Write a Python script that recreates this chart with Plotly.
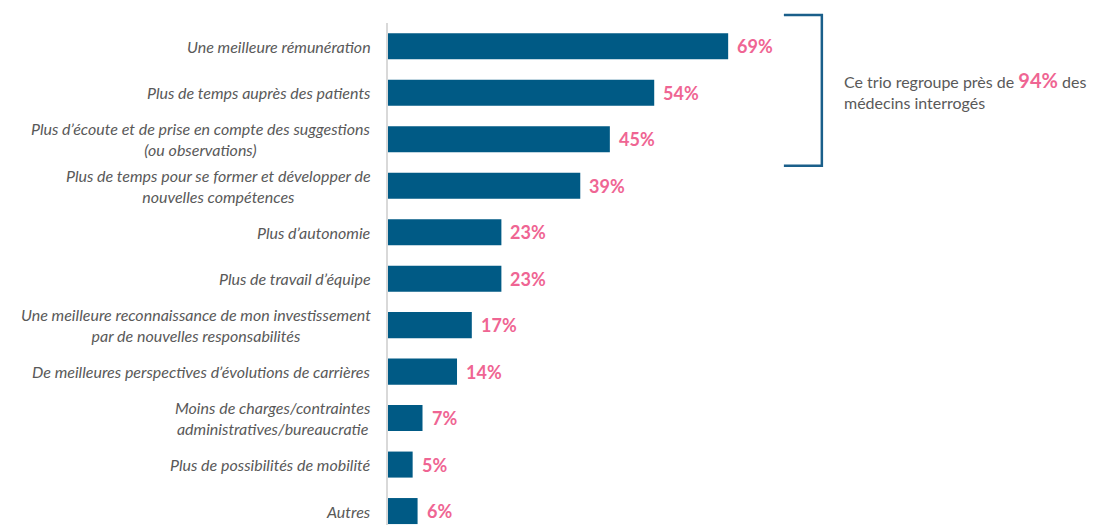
import plotly.graph_objects as go

categories = [
    "Une meilleure rémunération",
    "Plus de temps auprès des patients",
    "Plus d’écoute et de prise en compte des suggestions<br>(ou observations)",
    "Plus de temps pour se former et développer de<br>nouvelles compétences",
    "Plus d’autonomie",
    "Plus de travail d’équipe",
    "Une meilleure reconnaissance de mon investissement<br>par de nouvelles responsabilités",
    "De meilleures perspectives d’évolutions de carrières",
    "Moins de charges/contraintes<br>administratives/bureaucratie",
    "Plus de possibilités de mobilité",
    "Autres",
]
values = [69, 54, 45, 39, 23, 23, 17, 14, 7, 5, 6]

BAR = "#005a85"
PINK = "#ef6593"
GREY = "#595959"
FONT = "Lato"

idx = list(range(len(categories)))
Y_TOP, Y_BOT = -0.5, 10.3

fig = go.Figure(go.Bar(
    x=values, y=idx, orientation="h",
    marker=dict(color=BAR, line=dict(width=0)),
    width=0.56, hoverinfo="skip",
))

ann = []
for i, (c, v) in enumerate(zip(categories, values)):
    ann.append(dict(x=0, y=i, xref="x", yref="y", text=c, showarrow=False,
                    xanchor="right", yanchor="middle", align="center", xshift=-15,
                    font=dict(family=FONT, size=16, color=GREY, style="italic")))
    ann.append(dict(x=v, y=i, xref="x", yref="y", text=f"<b>{v}%</b>", showarrow=False,
                    xanchor="left", yanchor="middle", xshift=7,
                    font=dict(family=FONT, size=18, color=PINK)))

def paper_y(i):
    return (Y_BOT - i) / (Y_BOT - Y_TOP)

ann.append(dict(x=92.0, y=paper_y(0.95), xref="x", yref="paper", showarrow=False,
                xanchor="left", yanchor="middle", align="left",
                text=f"Ce trio regroupe près de <b><span style='color:{PINK};font-size:20px'>94%</span></b> des<br>médecins interrogés",
                font=dict(family=FONT, size=16, color=GREY)))

yt, yb = paper_y(-0.67), paper_y(2.57)
x0, x1 = 80.3, 88.0
fig.add_shape(type="path", xref="x", yref="paper",
              path=f"M {x0},{yt} L {x1},{yt} L {x1},{yb} L {x0},{yb}",
              line=dict(color="#1a5f8a", width=2.5))

fig.update_layout(
    width=1096, height=525,
    margin=dict(l=388, r=3, t=23, b=0),
    paper_bgcolor="white", plot_bgcolor="white",
    showlegend=False,
    annotations=ann,
    xaxis=dict(range=[0, 143], visible=False, fixedrange=True),
    yaxis=dict(range=[Y_BOT, Y_TOP], showticklabels=False, showgrid=False, zeroline=False,
               showline=True, linecolor="#d9d9d9", linewidth=1.5, ticks="", fixedrange=True),
    bargap=0.44,
)

fig.write_html("out.html")
